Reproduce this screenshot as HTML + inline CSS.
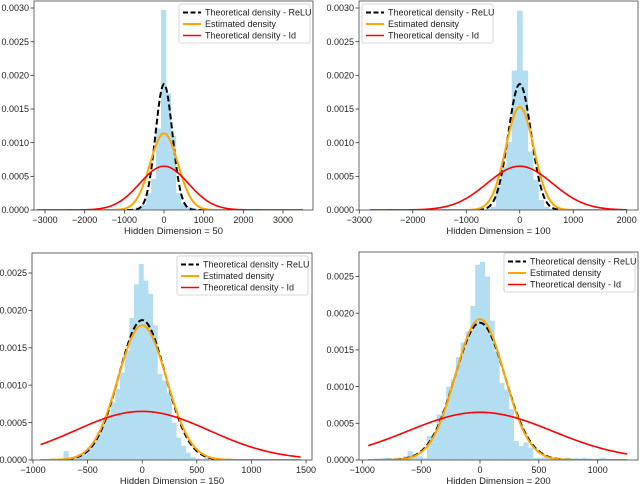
<!DOCTYPE html>
<html><head><meta charset="utf-8"><style>
html,body{margin:0;padding:0;background:#fff;}
svg{display:block;font-family:"Liberation Sans","DejaVu Sans",sans-serif;}
</style></head><body>
<svg id="fig" width="640" height="484" viewBox="0 0 640 484" xmlns="http://www.w3.org/2000/svg"></svg>
<script>
// ---- data ----
const panelTitles = ["Hidden Dimension = 50","Hidden Dimension = 100","Hidden Dimension = 150","Hidden Dimension = 200"];
const histStart = [-825, -650, -720, -902];
const histWidth = [125, 100, 43, 41];
const hist50 = [0.00002,0.00004,0.00008,0.00025,0.00046,0.00121,0.00297,0.00173,0.0011,0.00025,0.0001,0.00005,0.00003];
const hist100 = [0.00002,0.00005,0.00035,0.00064,0.00101,0.00207,0.00296,0.00207,0.00087,0.00045,0.00015,0.00005,0.00002,0.00001,0.00001,0,0,0.00002,0.00001];
const hist150 = [0.00012,0.00002,0.00005,0.00008,0.0001,0.00017,0.00025,0.00037,0.00048,0.00061,0.00077,0.00095,0.00117,0.00146,0.0019,0.00235,0.00262,0.0024,0.00222,0.0018,0.00115,0.00106,0.0009,0.0005,0.0003,0.00019,0.0001,0.00004,0.00002,0.00001,0.00003];
const hist200 = [0.00002,0.00002,0.00003,0.00002,0.00003,0.00003,0.00005,0.00012,0.00006,0.00005,0.00003,0.00033,0.00035,0.00062,0.00067,0.001,0.0011,0.0014,0.0016,0.00175,0.0021,0.00266,0.0027,0.0025,0.0019,0.00148,0.00105,0.00096,0.00069,0.00026,0.00019,0.00024,0.00017,0.00003,0.00003,0.00004,0.00002,0.00002,0.00003,0.00002,0.00003,0,0.00002,0.00003,0.00002,0,0.00002,0.00003];
const peakRelu = [0.00187,0.00187,0.00187,0.00187];
const peakEstimated = [0.00114,0.00153,0.00180,0.00192];
const peakId = [0.00065,0.00065,0.00065,0.00065];
const curveMin = [-3200,-2800,-930,-950];
const curveMax = [3500,2000,1450,1250];
const xTicks = [[-3000,-2000,-1000,0,1000,2000,3000],[-3000,-2000,-1000,0,1000,2000],[-1000,-500,0,500,1000,1500],[-1000,-500,0,500,1000]];
const yTicks = [[0,0.0005,0.001,0.0015,0.002,0.0025,0.003],[0,0.0005,0.001,0.0015,0.002,0.0025,0.003],[0,0.0005,0.001,0.0015,0.002,0.0025],[0,0.0005,0.001,0.0015,0.002,0.0025]];
const legendLabels = ["Theoretical density - ReLU","Estimated density","Theoretical density - Id"];
// ---- layout ----
const P = [
 {x0:34,x1:313,y0:1,y1:210,xa:-3000,pa:45,xb:3000,pb:283,ys:67333,lx:179,ly:4},
 {x0:359,x1:638,y0:1,y1:210,xa:-3000,pa:359.3,xb:2000,pb:626.7,ys:67333,lx:362,ly:4},
 {x0:32,x1:312,y0:253,y1:460,xa:-1000,pa:33,xb:1500,pb:306,ys:74800,lx:177,ly:256},
 {x0:359,x1:638,y0:252,y1:460,xa:-1000,pa:362.3,xb:1000,pb:597.7,ys:73400,lx:504,ly:253}
];
const hists=[hist50,hist100,hist150,hist200];
const NS="http://www.w3.org/2000/svg";
const svg=document.getElementById('fig');
function mk(t,a,parent){const e=document.createElementNS(NS,t);for(const k in a)e.setAttribute(k,a[k]);(parent||svg).appendChild(e);return e;}
function fmt(v){return v===0?"0.0000":v.toFixed(4);}
P.forEach((p,i)=>{
  const g=mk('g',{});
  
  
  const sx=v=>p.pa+(v-p.xa)*(p.pb-p.pa)/(p.xb-p.xa);
  const sy=v=>p.y1-v*p.ys;
  const cp=mk('clipPath',{id:'c'+i},g);mk('rect',{x:p.x0,y:p.y0,width:p.x1-p.x0,height:p.y1-p.y0},cp);
  const hg=mk('g',{'clip-path':'url(#c'+i+')'},g);
  hists[i].forEach((h,k)=>{
    if(h<=0)return;
    const a=histStart[i]+k*histWidth[i];
    const r=mk('rect',{x:sx(a),y:sy(h),width:sx(a+histWidth[i])-sx(a)+0.3,height:p.y1-sy(h),fill:'#b3def1'},hg);
    
    
  });
  const curves=[[peakId[i],'#ff0000','none',1.6,'curve-id'],[peakRelu[i],'#000','6,3',2,'curve-relu'],[peakEstimated[i],'#ffa500','none',2,'curve-estimated']];
  // draw order: relu, estimated, id similar to reference
  [curves[1],curves[2],curves[0]].forEach(c=>{
    const s=1/(c[0]*Math.sqrt(2*Math.PI));let d='';
    for(let n=0;n<=300;n++){const x=curveMin[i]+(curveMax[i]-curveMin[i])*n/300;const y=c[0]*Math.exp(-x*x/(2*s*s));d+=(n?'L':'M')+sx(x).toFixed(2)+','+sy(y).toFixed(2);}
    const pth=mk('path',{d:d,fill:'none',stroke:c[1],'stroke-width':c[3],'stroke-dasharray':c[2]},hg);
    
    
  });
  const fr=mk('rect',{x:p.x0,y:p.y0,width:p.x1-p.x0,height:p.y1-p.y0,fill:'none',stroke:'#444','stroke-width':0.8},g);
  
  
  xTicks[i].forEach(v=>{
    const x=sx(v);mk('line',{x1:x,x2:x,y1:p.y1,y2:p.y1+3.5,stroke:'#333','stroke-width':0.8},g);
    const t=mk('text',{x:x,y:p.y1+13,'font-size':9,'text-anchor':'middle',fill:'#222'},g);t.textContent=(v<0?'\u2212'+(-v):v);
    
    
  });
  yTicks[i].forEach(v=>{
    const y=sy(v);mk('line',{x1:p.x0-3.5,x2:p.x0,y1:y,y2:y,stroke:'#333','stroke-width':0.8},g);
    const t=mk('text',{x:p.x0-5,y:y+3.2,'font-size':9,'text-anchor':'end',fill:'#222'},g);t.textContent=fmt(v);
    
    
  });
  const xl=mk('text',{x:(p.x0+p.x1)/2,y:p.y1+24,'font-size':9.5,'text-anchor':'middle',fill:'#222'},g);xl.textContent=panelTitles[i];
  
  
  const lg=mk('g',{},g);
  
  
  mk('rect',{x:p.lx,y:p.ly,width:131,height:39,fill:'#fff',stroke:'#ccc','stroke-width':0.8,rx:2},lg);
  const st=[['#000','5,2.5',2],['#ffa500','none',2],['#ff0000','none',1.6]];
  legendLabels.forEach((l,k)=>{
    const y=p.ly+8.5+k*11.5;
    mk('line',{x1:p.lx+4,x2:p.lx+22,y1:y,y2:y,stroke:st[k][0],'stroke-dasharray':st[k][1],'stroke-width':st[k][2]},lg);
    const t=mk('text',{x:p.lx+26,y:y+3.2,'font-size':9,fill:'#222'},lg);t.textContent=l;
    
    
  });
});
</script>
</body></html>
